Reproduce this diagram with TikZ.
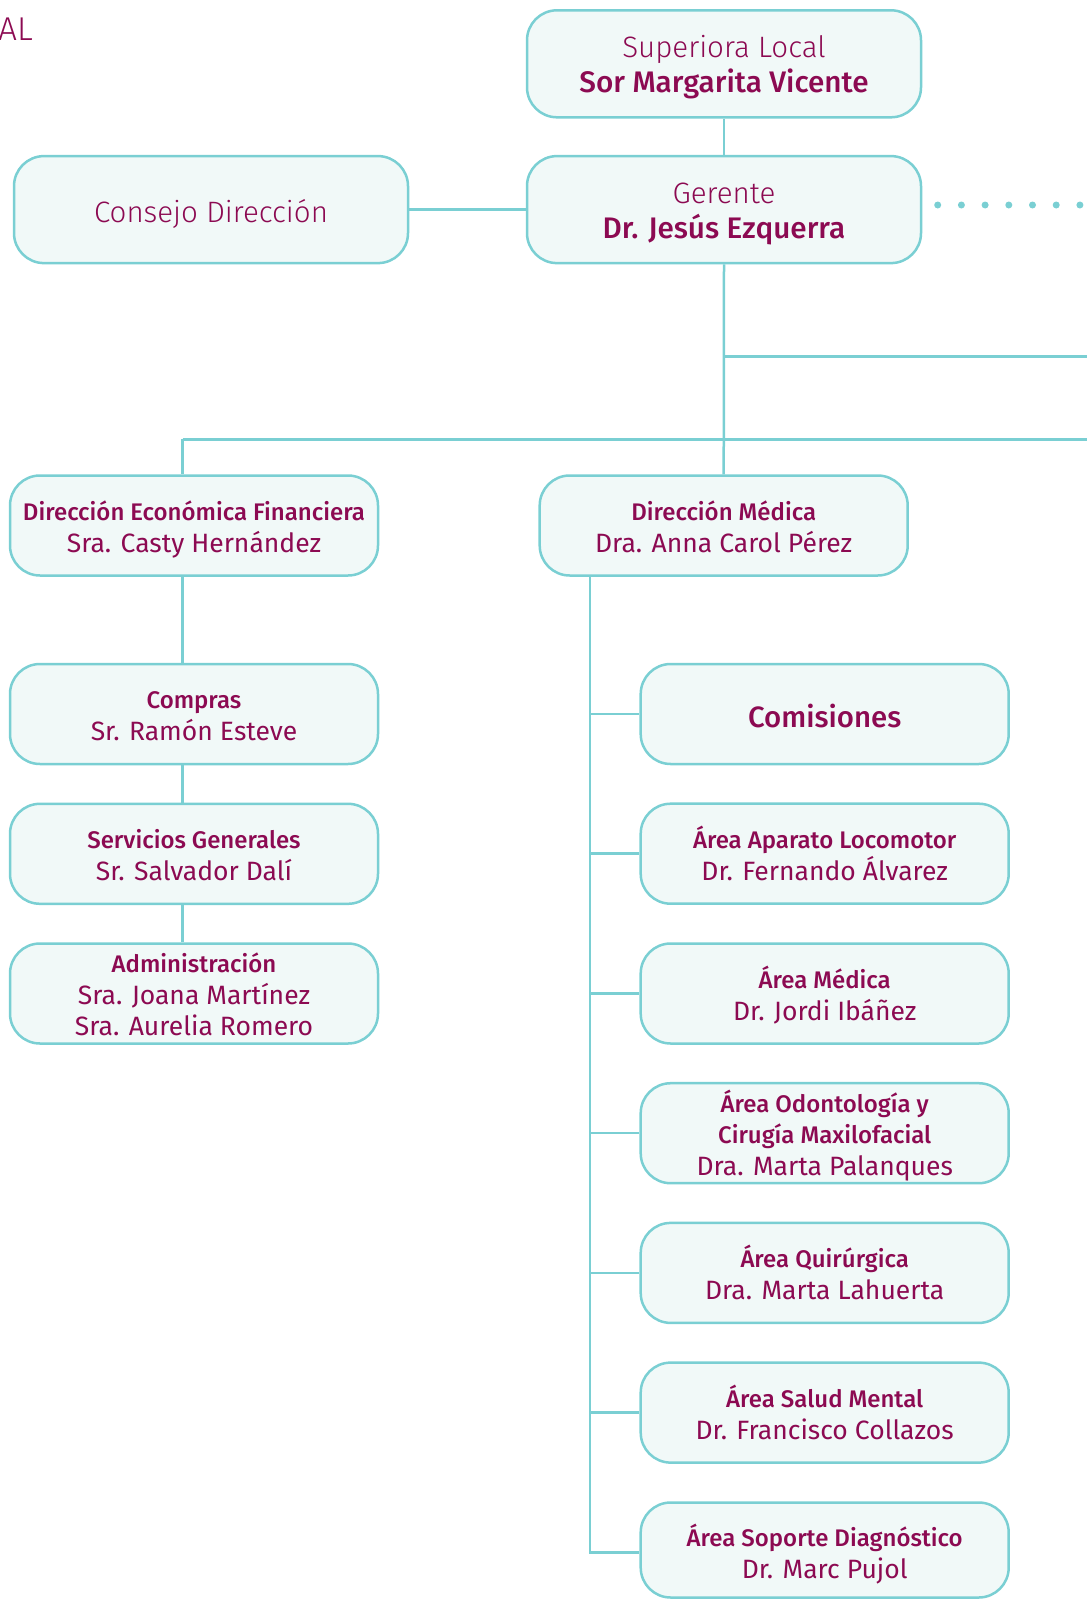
\documentclass[tikz,border=0pt]{standalone}
\usepackage{fontspec}
\setmainfont{Fira Sans}
\newfontfamily\medf{Fira Sans Medium}
\newfontfamily\lightf{Fira Sans Light}
\definecolor{mag}{RGB}{140,10,82}
\definecolor{tealb}{RGB}{122,207,211}
\definecolor{boxfill}{RGB}{241,249,248}
\newcommand{\tsz}{\fontsize{24}{31.6}\selectfont\medf}
\begin{document}
\begin{tikzpicture}[x=1pt,y=-1pt,
  box/.style={draw=tealb, fill=boxfill, line width=2.5pt, rounded corners=30pt,
    text=mag, align=center, inner sep=0pt, font=\fontsize{26.5}{31.6}\selectfont},
  bigbox/.style={box, minimum width=394pt, minimum height=107pt, font=\fontsize{29.5}{35.6}\selectfont},
  midbox/.style={box, minimum width=368pt, minimum height=100pt},
  one/.style={text height=#1, text depth=0pt},
  two/.style={text height=53pt, text depth=0pt},
  three/.style={text height=84.7pt, text depth=0pt},
  link/.style={draw=tealb, line width=2.5pt},
  dots/.style={draw=tealb, line width=7pt, line cap=round, dash pattern=on 0pt off 23.7pt}
]
\useasboundingbox (0,0) rectangle (1087,1600);

\node[anchor=base east, text=mag, font=\fontsize{33}{33}\selectfont\lightf, inner sep=0pt] (ttl) at (33,40.5) {AL};

% top
\node[bigbox, one=58pt] (sup) at (724,63.8) {{\lightf Superiora Local}\\{\medf\fontsize{29.7}{35.6}\selectfont Sor Margarita Vicente}};
\node[bigbox, one=58pt] (ger) at (724,209.6) {{\lightf Gerente}\\{\medf\fontsize{29.7}{35.6}\selectfont Dr. Jesús Ezquerra}};
\node[bigbox, one=26.3pt] (con) at (211,209.6) {{\lightf Consejo Dirección}};

% second level
\node[midbox, two] (def) at (194,525.5) {{\tsz Dirección Económica Financiera}\\Sra. Casty Hernández};
\node[midbox, two] (dm) at (723.7,525.5) {{\tsz Dirección Médica}\\Dra. Anna Carol Pérez};

% left column
\node[midbox, two] (com) at (194,714) {{\tsz Compras}\\Sr. Ramón Esteve};
\node[midbox, two] (sg) at (194,853.8) {{\tsz Servicios Generales}\\Sr. Salvador Dalí};
\node[midbox, three] (adm) at (194,993.5) {{\tsz Administración}\\Sra. Joana Martínez\\Sra. Aurelia Romero};

% right column
\node[midbox, one=26.5pt, font=\fontsize{29.4}{31.6}\selectfont\medf] (comis) at (824.7,714) {Comisiones};
\node[midbox, two] (loc) at (824.7,853.7) {{\tsz Área Aparato Locomotor}\\Dr. Fernando Álvarez};
\node[midbox, two] (med) at (824.7,993.5) {{\tsz Área Médica}\\Dr. Jordi Ibáñez};
\node[midbox, three] (odo) at (824.7,1133.2) {{\tsz Área Odontología y}\\{\tsz Cirugía Maxilofacial}\\Dra. Marta Palanques};
\node[midbox, two] (qui) at (824.7,1272.9) {{\tsz Área Quirúrgica}\\Dra. Marta Lahuerta};
\node[midbox, two] (sal) at (824.7,1412.6) {{\tsz Área Salud Mental}\\Dr. Francisco Collazos};
\node[midbox, one=57pt, minimum height=95pt] (sop) at (824.7,1550) {{\tsz Área Soporte Diagnóstico}\\Dr. Marc Pujol};

% connectors
\draw[link] (sup.south) -- (ger.north);
\draw[link] (con.east) -- (ger.west);
\draw[link] (ger.south) -- (dm.north);
\coordinate (e1) at (1087,356.7);
\draw[link] (ger.south |- e1) -- (e1);
\coordinate (e2) at (1087,439.3);
\coordinate (t1) at (182.5,439.3);
\draw[link] (t1) -- (e2);
\draw[link] (t1) -- (t1 |- def.north);
\draw[link] (def.south -| t1) -- (com.north -| t1);
\draw[link] (com.south -| t1) -- (sg.north -| t1);
\draw[link] (sg.south -| t1) -- (adm.north -| t1);
\coordinate (t2) at (590,576);
\coordinate (t3) at (590,1552.3);
\draw[link] (dm.south -| t2) -- (t3) -- (t3 -| sop.west);
\foreach \n in {comis,loc,med,odo,qui,sal}
  \draw[link] (\n.west) -- (\n.west -| t2);

% dotted line
\coordinate (d0) at (937.7,205);
\coordinate (d1) at (1087,205);
\draw[dots] (d0) -- (d1);
\end{tikzpicture}
\end{document}
